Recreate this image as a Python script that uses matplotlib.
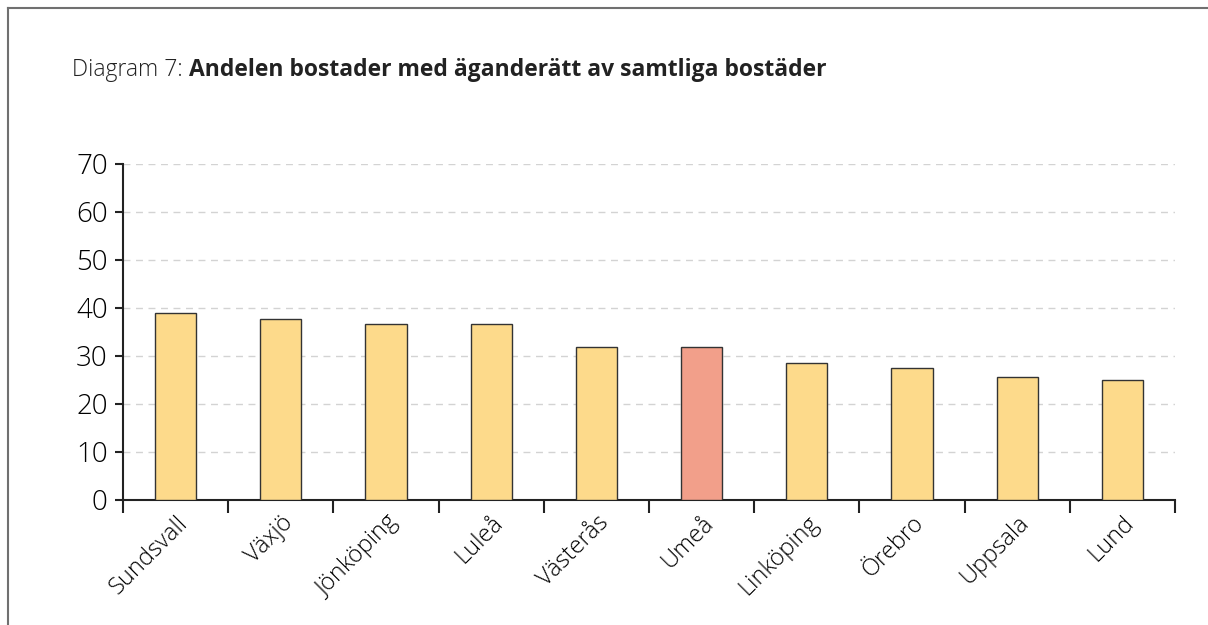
import matplotlib.pyplot as plt
import numpy as np

# Data
stader = ['Sundsvall', 'Växjö', 'Jönköping', 'Luleå', 'Västerås',
          'Umeå', 'Linköping', 'Örebro', 'Uppsala', 'Lund']
andel = [39.0, 37.8, 36.6, 36.6, 31.8, 31.8, 28.6, 27.4, 25.7, 25.0]
markerad = 'Umeå'

gul = '#FDDA8B'
rod = '#F29F8A'

plt.rcParams['font.family'] = ['Open Sans', 'DejaVu Sans']

fig = plt.figure(figsize=(12.08, 6.25), dpi=100)
ax = fig.add_axes([123 / 1208, 1 - 500 / 625, (1175 - 123) / 1208, (500 - 164) / 625])

x = np.arange(len(stader))
farger = [rod if s == markerad else gul for s in stader]
ax.bar(x, andel, width=0.39, color=farger, edgecolor='#333333', linewidth=1.0, zorder=3)

ax.set_xlim(-0.5, len(stader) - 0.5)
ax.set_ylim(0, 70)
ax.set_yticks(range(0, 71, 10))
ax.yaxis.grid(True, linestyle=(0, (5, 4)), color='#D3D3D3', linewidth=1.0, zorder=0)

ax.set_xticks(x)
ax.set_xticklabels(stader, rotation=45, ha='right', va='top', rotation_mode='anchor',
                   fontsize=17, fontweight='light')
ax.set_xticks(np.arange(-0.5, len(stader)), minor=True)
ax.tick_params(axis='x', which='major', length=0, pad=8)
ax.tick_params(axis='x', which='minor', length=9, width=1.5, direction='out', color='#222222')
ax.tick_params(axis='y', length=6, width=1.5, labelsize=20, pad=5, color='#222222')
for t in ax.get_yticklabels():
    t.set_fontweight('light')

for s in ['top', 'right']:
    ax.spines[s].set_visible(False)
for s in ['left', 'bottom']:
    ax.spines[s].set_linewidth(1.5)
    ax.spines[s].set_color('#222222')

# Titel
ty = 1 - 70 / 625
t1 = fig.text(72 / 1208, ty, 'Diagram 7:', fontsize=16.5, fontweight='light', color='#222222',
              va='center', ha='left')
fig.canvas.draw()
bb = t1.get_window_extent()
fig.text((bb.x1 + 6) / 1208, ty, 'Andelen bostader med äganderätt av samtliga bostäder',
         fontsize=16.5, fontweight='bold', color='#222222', va='center', ha='left')

# Ram
fig.add_artist(plt.Line2D([8 / 1208, 8 / 1208], [0, 1 - 8 / 625], color='#707070', linewidth=1.5))
fig.add_artist(plt.Line2D([8 / 1208, 1], [1 - 8 / 625, 1 - 8 / 625], color='#707070', linewidth=1.5))

fig.savefig('out.png', dpi=100)
